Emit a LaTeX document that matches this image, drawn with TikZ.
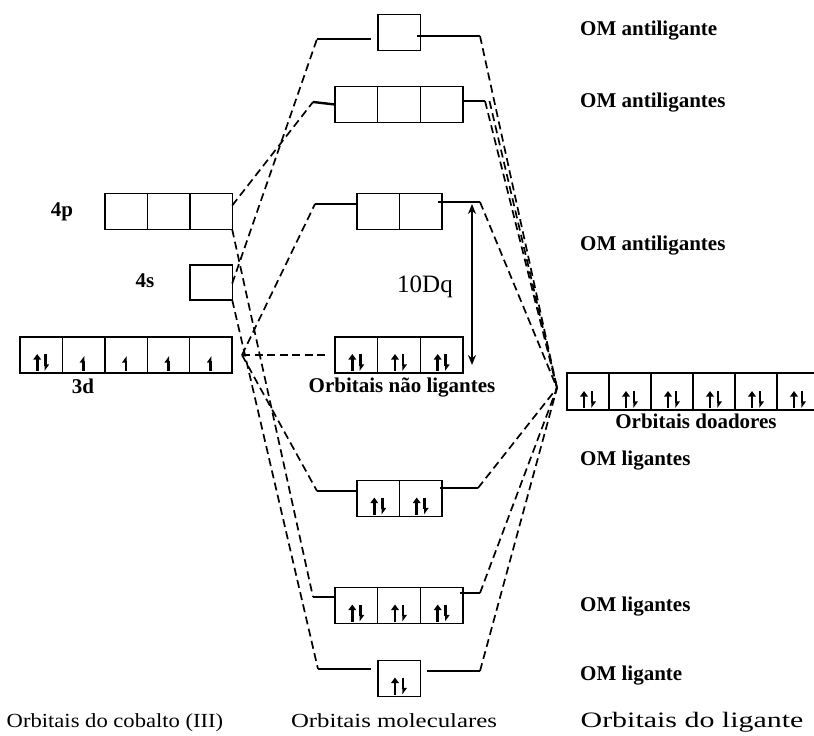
\documentclass[tikz,border=0pt]{standalone}
\usepackage{fontspec}
\setmainfont{Liberation Serif}
\usetikzlibrary{arrows.meta}
\begin{document}
\begin{tikzpicture}[x=1pt,y=-1pt,
  cell/.style={draw, line width=1.4pt, minimum width=42.4pt, minimum height=36pt, inner sep=0pt, outer sep=0pt},
  lcell/.style={cell, minimum width=42.7pt},
  lvl/.style={line width=2.4pt},
  conn/.style={line width=1.7pt, dash pattern=on 8pt off 4.5pt},
  lbl/.style={font=\bfseries\fontsize{21}{23}\selectfont, inner sep=0pt},
  side/.style={lbl, anchor=base west},
  bot/.style={font=\fontsize{20}{22}\selectfont, inner sep=0pt, anchor=base},
  el/.style={line width=2.7pt},
  ud/.pic={\draw[el,-{Triangle[length=5.5pt,width=7.5pt]}] (-4,8.5) -- (-4,-8.5);
           \draw[el,-{Triangle[harpoon,length=5.5pt,width=7.5pt]}] (4,-8.5) -- (4,8.5);},
  u/.pic={\draw[el,-{Triangle[harpoon,length=5.5pt,width=7.5pt]}] (0,7.5) -- (0,-7.5);}
]
\clip (0,0) rectangle (814,736);
\fill[white] (0,0) rectangle (814,736);

% ---- cobalt orbitals ----
\node[cell] (p1) at (126.2,211.5) {};
\node[cell] (p2) at (168.6,211.5) {};
\node[cell] (p3) at (211.0,211.5) {};
\node[cell, minimum height=35pt] (s1) at (211.0,282.5) {};
\foreach \i/\x in {1/41.2,2/83.6,3/126.0,4/168.4,5/210.8}
  \node[cell] (d\i) at (\x,355) {};
\pic at ([yshift=10.5pt]d1.south) {ud};
\foreach \i in {2,...,5} \pic at ([yshift=9.5pt]d\i.south) {u};
\node[lbl] (l4p) at (62,212) {4p};
\node[lbl] (l4s) at (145,281) {4s};
\node[lbl] (l3d) at (83,386) {3d};

% ---- molecular orbitals ----
\node[cell] (as1) at (399,32.5) {};
\foreach \i/\x in {1/356.3,2/399,3/441.7} \node[lcell] (ts\i) at (\x,104.5) {};
\foreach \i/\x in {1/378.3,2/420.7} \node[lcell] (es\i) at (\x,211.5) {};
\foreach \i/\x in {1/356.3,2/399,3/441.7} {
  \node[lcell] (n\i) at (\x,355) {};
  \pic at ([yshift=10.5pt]n\i.south) {ud};
}
\foreach \i/\x in {1/378.3,2/420.7} {
  \node[lcell] (e\i) at (\x,498.5) {};
  \pic at ([yshift=10.5pt]e\i.south) {ud};
}
\foreach \i/\x in {1/356.3,2/399,3/441.7} {
  \node[lcell] (t\i) at (\x,605.5) {};
  \pic at ([yshift=10.5pt]t\i.south) {ud};
}
\node[cell] (a1) at (399,678.5) {};
\pic at ([yshift=10.5pt]a1.south) {ud};

\node[lbl, anchor=base] (nl) at (402,392) {Orbitais não ligantes};

% level lines
\coordinate (aSL) at (317,39);  \coordinate (aSR) at (480,36);
\coordinate (tSL) at (313,102); \coordinate (tSR) at (485,101);
\coordinate (eSL) at (315,204); \coordinate (eSR) at (480,202);
\coordinate (eL) at (317,491);  \coordinate (eR) at (478,488);
\coordinate (tL) at (313,597);  \coordinate (tR) at (480,593);
\coordinate (aL) at (318,669);  \coordinate (aR) at (480,671);
\draw[lvl] (aSL) -- ++(54,0);
\draw[lvl] (aSR) -- ++(-63,0);
\draw[lvl] (tSL) -- (ts1.west);
\draw[lvl] (tSR) -- (ts3.east |- tSR);
\draw[lvl] (eSL) -- (es1.west |- eSL);
\draw[lvl] (eSR) -- ++(-42,0);
\draw[lvl] (eL) -- (e1.west |- eL);
\draw[lvl] (eR) -- ++(-38,0);
\draw[lvl] (tL) -- (t1.west |- tL);
\draw[lvl] (tR) -- ++(-20,0);
\draw[lvl] (aL) -- ++(53,0);
\draw[lvl] (aR) -- ++(-53,0);

% 10Dq
\coordinate (dqT) at (472,204);
\coordinate (dqB) at (472,365);
\draw[line width=1.6pt, {Stealth[length=10pt,width=8pt]}-{Stealth[length=10pt,width=8pt]}] (dqT) -- (dqB);
\node[font=\fontsize{25}{27}\selectfont, inner sep=0pt, anchor=base] (dq) at (425,292) {10Dq};

% ---- ligand orbitals ----
\foreach \i/\x in {1/588,2/630,3/672,4/714,5/756,6/798} {
  \node[cell, minimum width=42pt, minimum height=37pt] (g\i) at (\x,391.5) {};
  \pic at ([yshift=10.5pt]g\i.south) {ud};
}
\node[lbl, anchor=base] (od) at (696,428) {Orbitais doadores};

% ---- connectors ----
\coordinate (p4a) at ([yshift=6pt]p3.east);
\coordinate (p4b) at (p3.south east);
\coordinate (s4a) at ([yshift=-1pt]s1.east);
\coordinate (s4b) at (s1.south east);
\coordinate (d3) at ([xshift=10pt]d5.east);
\coordinate (lig) at ([xshift=-10pt,yshift=3.5pt]g1.west);

\draw[conn] (s4a) -- (aSL);
\draw[conn] (p4a) -- (tSL);
\draw[conn] (d3) -- (eSL);
\draw[conn] (d3) -- ([xshift=-7pt]n1.west);
\draw[conn] (d3) -- (eL);
\draw[conn] (p4b) -- (tL);
\draw[conn] (s4b) -- (aL);
\foreach \c in {aSR,tSR,eSR,eR,tR,aR} \draw[conn] (\c) -- (lig);
\draw[conn] ([xshift=4.5pt]tSR) -- (lig);

% ---- right labels ----
\node[side] (r1) at (580,35) {OM antiligante};
\node[side] (r2) at (580,107) {OM antiligantes};
\node[side] (r3) at (580,250) {OM antiligantes};
\node[side] (r4) at (580,465) {OM ligantes};
\node[side] (r5) at (580,611) {OM ligantes};
\node[side] (r6) at (580,680) {OM ligante};

% ---- bottom labels ----
\node[bot] (b1) at (115,727) {\scalebox{1.13}[1]{Orbitais do cobalto (III)}};
\node[bot] (b2) at (394,727) {\scalebox{1.24}[1]{Orbitais moleculares}};
\node[bot, font=\fontsize{22}{24}\selectfont] (b3) at (692,727) {\scalebox{1.36}[1]{Orbitais do ligante}};
\end{tikzpicture}
\end{document}
